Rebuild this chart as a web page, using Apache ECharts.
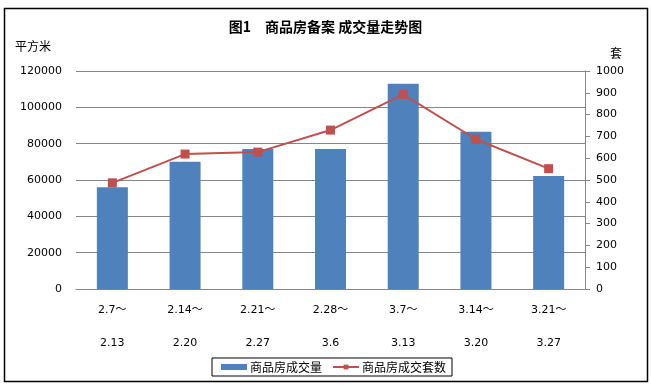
<!DOCTYPE html>
<html>
<head>
<meta charset="utf-8">
<script src="https://cdn.jsdelivr.net/npm/echarts@6/dist/echarts.min.js"></script>
<style>
html,body{margin:0;padding:0;background:#fff;}
#c{width:651px;height:385px;}
</style>
</head>
<body>
<div id="c"></div>
<script>
const categories = ['2.7～\n2.13','2.14～\n2.20','2.21～\n2.27','2.28～\n3.6','3.7～\n3.13','3.14～\n3.20','3.21～\n3.27'];
const areaValues = [56000, 70000, 77000, 77000, 113000, 86500, 62200];
const unitValues = [487, 619, 628, 729, 893, 687, 552];
const leftTicks = {min: 0, max: 120000, interval: 20000};
const rightTicks = {min: 0, max: 1000, interval: 100};

const numFont = 'DejaVu Sans, Noto Sans CJK SC, sans-serif';
const cjkFont = 'Noto Sans CJK SC, sans-serif';

const chart = echarts.init(document.getElementById('c'), null, {renderer: 'canvas'});
chart.setOption({
  backgroundColor: '#fff',
  animation: false,
  title: {
    text: '图1\u3000商品房备案 成交量走势图',
    left: 'center',
    top: 15,
    textStyle: {fontFamily: cjkFont, fontSize: 14, fontWeight: 'bold', color: '#000'}
  },
  graphic: [
    {type: 'rect', shape: {x: 4.5, y: 8.5, width: 643, height: 373}, style: {fill: 'none', stroke: '#000', lineWidth: 1.5}, silent: true, z: -1},
    {type: 'text', left: 15, top: 40, style: {text: '平方米', font: '12px ' + cjkFont, fill: '#000'}},
    {type: 'text', left: 610, top: 47, style: {text: '套', font: '12px ' + cjkFont, fill: '#000'}}
  ],
  legend: {
    bottom: 9,
    left: 212,
    borderColor: '#000',
    borderWidth: 1,
    padding: [3, 6, 3, 9],
    itemGap: 10,
    itemWidth: 26,
    itemHeight: 6,
    textStyle: {fontFamily: cjkFont, fontSize: 12, color: '#000', padding: [0, 0, 0, -2]},
    data: [
      {name: '商品房成交量', icon: 'rect'},
      {name: '商品房成交套数'}
    ]
  },
  grid: {left: 76, right: 66, top: 71, bottom: 96, containLabel: false},
  xAxis: {
    type: 'category',
    data: categories,
    axisLine: {show: true, lineStyle: {color: '#868686', width: 1}},
    axisTick: {show: false},
    axisLabel: {fontFamily: numFont, fontSize: 11, color: '#000', lineHeight: 33, margin: 5, interval: 0}
  },
  yAxis: [
    {
      type: 'value', min: leftTicks.min, max: leftTicks.max, interval: leftTicks.interval,
      axisLine: {show: false}, axisTick: {show: false},
      axisLabel: {fontFamily: numFont, fontSize: 11, color: '#000', margin: 14, formatter: v => String(v)},
      splitLine: {show: true, lineStyle: {color: '#868686', width: 1}}
    },
    {
      type: 'value', min: rightTicks.min, max: rightTicks.max, interval: rightTicks.interval,
      position: 'right',
      axisLine: {show: true, lineStyle: {color: '#868686', width: 1}},
      axisTick: {show: true, length: 5, inside: false, lineStyle: {color: '#868686'}},
      axisLabel: {fontFamily: numFont, fontSize: 11, color: '#000', margin: 11, formatter: v => String(v)},
      splitLine: {show: false}
    }
  ],
  series: [
    {
      name: '商品房成交量', type: 'bar', yAxisIndex: 0,
      data: areaValues, barWidth: 31,
      itemStyle: {color: '#4F81BD'}
    },
    {
      name: '商品房成交套数', type: 'line', yAxisIndex: 1,
      data: unitValues,
      symbol: 'rect', symbolSize: 9, showAllSymbol: true,
      lineStyle: {color: '#C0504D', width: 2},
      itemStyle: {color: '#C0504D'}
    }
  ]
});
</script>
</body>
</html>
